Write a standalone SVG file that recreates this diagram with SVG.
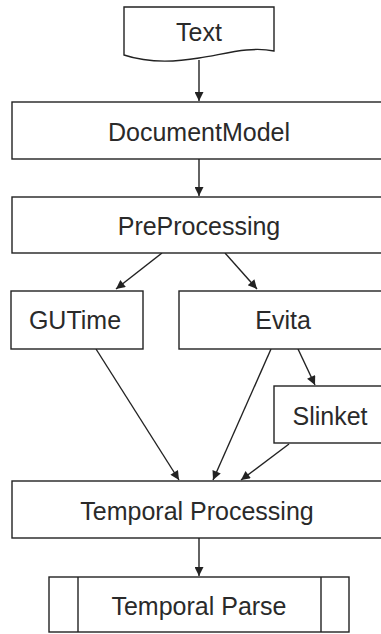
<svg xmlns="http://www.w3.org/2000/svg" width="381" height="634" viewBox="0 0 381 634">
<style>
.box{fill:#fff;stroke:#222;stroke-width:1.4}
.lbl{font-family:"Liberation Sans",Arial,Helvetica,sans-serif;font-size:25px;fill:#2a2a2a;text-anchor:middle}
.con{stroke:#222;stroke-width:1.4;fill:none;marker-end:url(#ah)}
</style>
<defs>
<marker id="ah" viewBox="0 0 10 10" refX="10" refY="5" markerWidth="13" markerHeight="9" markerUnits="userSpaceOnUse" orient="auto">
<path d="M0,0 L10,5 L0,10 Z" fill="#222"/>
</marker>
</defs>
<rect width="381" height="634" fill="#fff"/>
<g id="connectors">
<line class="con" x1="199" y1="60" x2="199" y2="101"/>
<line class="con" x1="199" y1="159" x2="199" y2="196"/>
<line class="con" x1="162" y1="253" x2="116" y2="289"/>
<line class="con" x1="225" y1="253" x2="257" y2="289"/>
<line class="con" x1="298" y1="349" x2="315" y2="385"/>
<line class="con" x1="96" y1="349" x2="179" y2="480"/>
<line class="con" x1="271" y1="349" x2="213" y2="480"/>
<line class="con" x1="289" y1="444" x2="241" y2="480"/>
<line class="con" x1="199" y1="538" x2="199" y2="576"/>
</g>
<g id="text">
<path class="box" d="M124,7 H274 V51 C250,46 225,54 199,58 C170,63 145,62 124,55 Z"/>
<text class="lbl" x="199" y="41">Text</text>
</g>
<g id="documentmodel">
<rect class="box" x="12" y="102" width="380" height="57"/>
<text class="lbl" x="199" y="141">DocumentModel</text>
</g>
<g id="preprocessing">
<rect class="box" x="12" y="197" width="380" height="56"/>
<text class="lbl" x="199" y="235">PreProcessing</text>
</g>
<g id="gutime">
<rect class="box" x="11" y="291" width="132" height="58"/>
<text class="lbl" x="75" y="329">GUTime</text>
</g>
<g id="evita">
<rect class="box" x="179" y="291" width="213" height="58"/>
<text class="lbl" x="283" y="329">Evita</text>
</g>
<g id="slinket">
<rect class="box" x="274" y="386" width="118" height="57"/>
<text class="lbl" x="330" y="425">Slinket</text>
</g>
<g id="temporalprocessing">
<rect class="box" x="12" y="481" width="380" height="57"/>
<text class="lbl" x="197" y="520">Temporal Processing</text>
</g>
<g id="temporalparse">
<rect class="box" x="49" y="577" width="300" height="55"/>
<line x1="78" y1="577" x2="78" y2="632" stroke="#222" stroke-width="1.4"/>
<line x1="321" y1="577" x2="321" y2="632" stroke="#222" stroke-width="1.4"/>
<text class="lbl" x="199" y="615">Temporal Parse</text>
</g>
</svg>
